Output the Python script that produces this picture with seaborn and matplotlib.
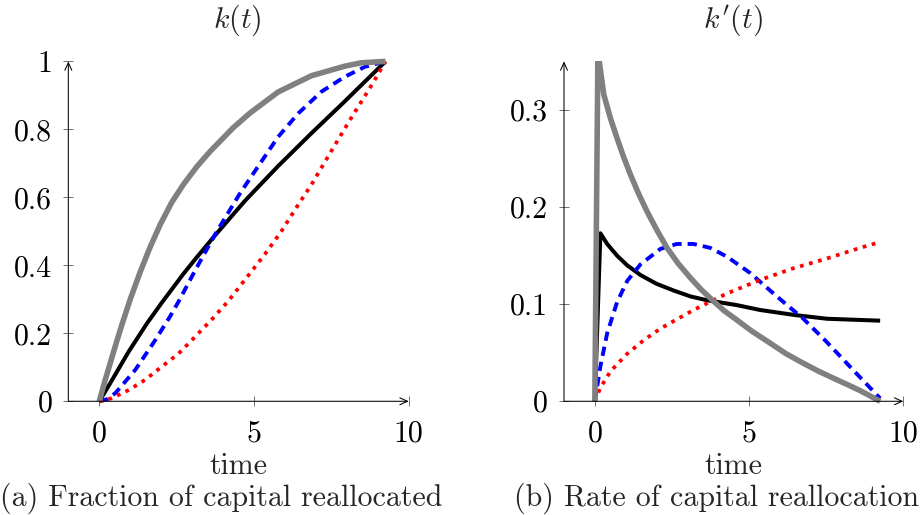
import matplotlib
matplotlib.use("Agg")
import matplotlib.pyplot as plt
import seaborn as sns

sns.set_style("ticks")
plt.rcParams["font.family"] = ["cmr10", "DejaVu Serif"]
plt.rcParams["mathtext.fontset"] = "cm"
plt.rcParams["axes.formatter.use_mathtext"] = True
plt.rcParams["axes.unicode_minus"] = False

# ---- k(t): fraction of capital reallocated ----
t_gray_k = [0, 0.19, 0.52, 0.73, 1.00, 1.32, 1.65, 1.97, 2.34, 2.72, 3.15, 3.58, 4.33, 4.87, 5.78, 6.86, 7.94, 8.47, 9.25]
gray_k = [0, 0.062, 0.163, 0.225, 0.30, 0.38, 0.455, 0.52, 0.585, 0.638, 0.69, 0.735, 0.805, 0.848, 0.91, 0.958, 0.986, 0.996, 1.0]

t_black_k = [0, 0.30, 0.95, 1.54, 2.02, 2.72, 3.10, 3.74, 4.71, 5.78, 6.86, 7.94, 9.25]
black_k = [0, 0.045, 0.146, 0.229, 0.29, 0.375, 0.418, 0.488, 0.59, 0.692, 0.789, 0.883, 1.0]

t_blue_k = [0, 0.25, 0.52, 1.16, 1.81, 2.29, 2.56, 3.04, 3.31, 3.80, 4.55, 5.14, 5.78, 6.43, 7.18, 7.94, 8.58, 9.25]
blue_k = [0, 0.006, 0.024, 0.092, 0.18, 0.25, 0.293, 0.375, 0.42, 0.50, 0.612, 0.692, 0.778, 0.847, 0.911, 0.955, 0.984, 1.0]

t_red_k = [0, 0.41, 0.95, 1.48, 2.02, 2.56, 3.10, 3.63, 4.17, 4.60, 5.33, 5.87, 6.32, 6.86, 7.51, 8.15, 8.80, 9.25]
red_k = [0, 0.009, 0.033, 0.063, 0.102, 0.140, 0.190, 0.240, 0.295, 0.345, 0.430, 0.498, 0.563, 0.638, 0.738, 0.835, 0.930, 1.0]

# ---- k'(t): rate of capital reallocation ----
t_gray_d = [0, 0.10, 0.29, 0.50, 0.72, 0.94, 1.16, 1.43, 1.70, 2.00, 2.34, 2.70, 3.10, 3.45, 3.85,
            4.20, 4.55, 5.10, 5.63, 6.20, 6.71, 7.25, 7.79, 8.20, 8.60, 9.25]
gray_d = [0, 0.36, 0.316, 0.292, 0.271, 0.251, 0.233, 0.213, 0.195, 0.177, 0.158, 0.142, 0.127, 0.115, 0.103,
          0.093, 0.085, 0.072, 0.061, 0.049, 0.040, 0.031, 0.023, 0.017, 0.011, 0.0]

t_black_d = [0, 0.18, 0.40, 0.72, 1.05, 1.48, 2.00, 2.56, 3.10, 3.64, 4.61, 5.36, 6.44, 7.52, 9.25]
black_d = [0, 0.173, 0.162, 0.150, 0.140, 0.130, 0.121, 0.114, 0.108, 0.104, 0.099, 0.094, 0.089, 0.085, 0.083]

t_blue_d = [0, 0.18, 0.40, 0.72, 1.05, 1.48, 2.13, 2.66, 3.20, 3.74, 4.28, 5.04, 5.90, 6.76, 7.52, 8.38, 9.25]
blue_d = [0, 0.036, 0.070, 0.102, 0.124, 0.141, 0.157, 0.162, 0.162, 0.158, 0.149, 0.132, 0.108, 0.085, 0.061, 0.032, 0.003]

t_red_d = [0, 0.18, 0.51, 1.05, 1.59, 2.13, 3.20, 4.28, 5.36, 6.44, 7.52, 8.60, 9.25]
red_d = [0, 0.014, 0.031, 0.049, 0.063, 0.075, 0.094, 0.111, 0.125, 0.137, 0.147, 0.158, 0.164]

x_ticks = [0, 5, 10]
k_ticks = [0, 0.2, 0.4, 0.6, 0.8, 1]
k_tick_labels = ["0", "0.2", "0.4", "0.6", "0.8", "1"]
d_ticks = [0, 0.1, 0.2, 0.3]
d_tick_labels = ["0", "0.1", "0.2", "0.3"]

GRAY = "#808080"
BLUE = "#0000ff"
RED = "#ff0000"
FS = 21.5

styles = {
    "black": dict(color="black", lw=2.9, solid_capstyle="butt", solid_joinstyle="round"),
    "blue": dict(color=BLUE, lw=2.8, linestyle=(0, (2.4, 1.55)), dash_capstyle="butt"),
    "red": dict(color=RED, lw=2.7, linestyle=(0, (1.0, 1.5)), dash_capstyle="butt"),
    "gray": dict(color=GRAY, lw=4.0, solid_capstyle="butt", solid_joinstyle="round"),
}

fig = plt.figure(figsize=(9.22, 5.15), dpi=100)
ax1 = fig.add_axes([0.0741, 0.2208, 0.3692, 0.660])
ax2 = fig.add_axes([0.6117, 0.2208, 0.3680, 0.660])


def draw_series(ax, series, clip_top):
    for key, t, v in series:
        n0 = len(ax.lines)
        sns.lineplot(x=t, y=v, ax=ax, sort=False, estimator=None, legend=False, **styles[key])
        for ln in ax.lines[n0:]:
            if clip_top:
                rect = plt.Rectangle((-0.1, -0.1), 1.2, 1.1, transform=ax.transAxes)
                ln.set_clip_path(rect)
            else:
                ln.set_clip_on(False)


def style_axes(ax, yticks, ylabels, ylim):
    ax.set_xlim(-1, 10)
    ax.set_ylim(*ylim)
    for s in ax.spines.values():
        s.set_visible(False)
    ax.set_xticks(x_ticks)
    ax.set_xticklabels([str(x) for x in x_ticks])
    ax.set_yticks(yticks)
    ax.set_yticklabels(ylabels)
    ax.tick_params(axis="both", direction="inout", length=7, width=0.6,
                   color="0.35", labelsize=FS, labelcolor="black")
    ax.tick_params(axis="x", pad=10)
    ax.tick_params(axis="y", pad=8)
    arrow = dict(arrowstyle="->,head_length=0.55,head_width=0.25", lw=0.75,
                 color="black", shrinkA=0, shrinkB=0, mutation_scale=10)
    ax.annotate("", xy=(1, 0), xytext=(0, 0), xycoords="axes fraction",
                textcoords="axes fraction", arrowprops=arrow, annotation_clip=False)
    ax.annotate("", xy=(0, 1), xytext=(0, 0), xycoords="axes fraction",
                textcoords="axes fraction", arrowprops=arrow, annotation_clip=False)
    ax.set_xlabel("time", fontsize=FS)
    ax.xaxis.set_label_coords(0.5, -0.152)
    ax.set_ylabel("")


draw_series(ax1, [("black", t_black_k, black_k), ("blue", t_blue_k, blue_k),
                  ("red", t_red_k, red_k), ("gray", t_gray_k, gray_k)], clip_top=False)
draw_series(ax2, [("black", t_black_d, black_d), ("blue", t_blue_d, blue_d),
                  ("red", t_red_d, red_d), ("gray", t_gray_d, gray_d)], clip_top=True)

style_axes(ax1, k_ticks, k_tick_labels, (0, 1))
style_axes(ax2, d_ticks, d_tick_labels, (0, 0.35))

fig.text(237.5 / 922, 1 - 27.5 / 515, r"$k(t)$", ha="center", va="baseline", fontsize=FS)
fig.text(732.5 / 922, 1 - 27.5 / 515, r"$k'(t)$", ha="center", va="baseline", fontsize=FS)

fig.text(220.8 / 922, 1 - 506 / 515, "(a) Fraction of capital reallocated",
         ha="center", va="baseline", fontsize=FS)
fig.text(716.7 / 922, 1 - 506 / 515, "(b) Rate of capital reallocation",
         ha="center", va="baseline", fontsize=FS)

fig.savefig("out.png", dpi=100)
